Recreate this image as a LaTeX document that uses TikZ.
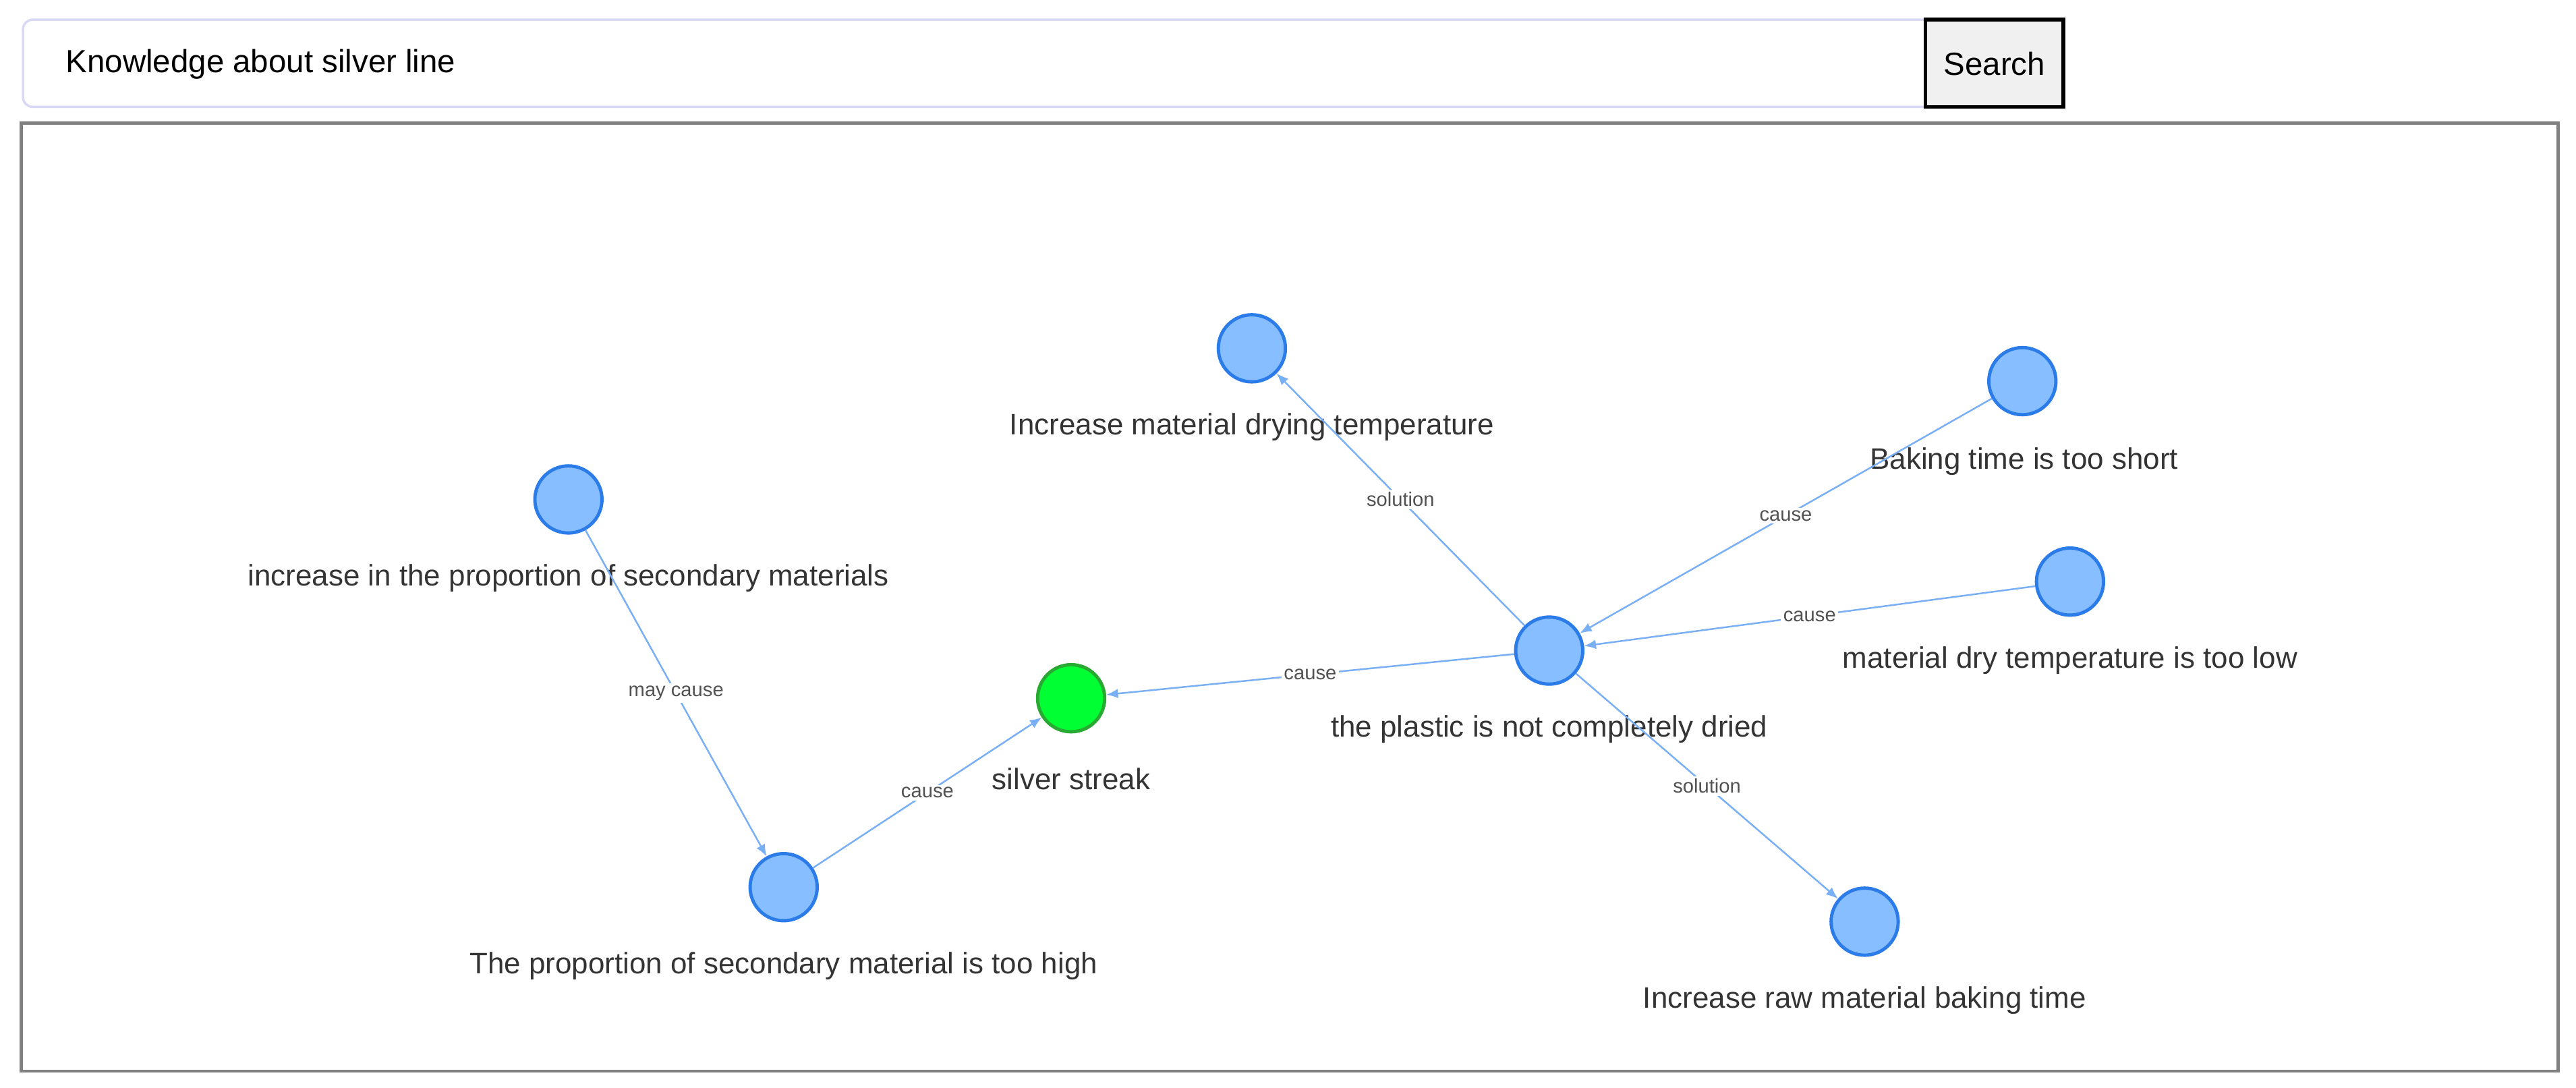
\documentclass[tikz,border=0pt]{standalone}
\usepackage{fontspec}
\setmainfont{Liberation Sans}
\usetikzlibrary{arrows.meta}
\definecolor{nfill}{RGB}{135,190,255}
\definecolor{nline}{RGB}{43,124,233}
\definecolor{gfill}{RGB}{0,255,51}
\definecolor{gline}{RGB}{40,170,50}
\definecolor{eline}{RGB}{120,175,245}
\definecolor{txt}{RGB}{52,52,52}
\begin{document}
\begin{tikzpicture}[x=0.024356cm,y=-0.024356cm,
  nd/.style={circle,draw=nline,fill=nfill,line width=1.4pt,minimum size=58\pgflinewidth*0+28.3pt,inner sep=0pt},
  gn/.style={nd,draw=gline,fill=gfill},
  lb/.style={text=txt,font=\fontsize{12.5}{14}\selectfont,anchor=center},
  ed/.style={draw=eline,line width=0.7pt,-{Latex[length=5pt,width=4pt]}},
  el/.style={text=txt!85,font=\fontsize{8.3}{9}\selectfont,fill=white,inner sep=1pt,midway}]
\useasboundingbox (0,0) rectangle (1568,662);
\fill[white] (0,0) rectangle (1568,662);
% search bar
\draw[rounded corners=4pt,draw=black!20!blue!15,line width=1pt] (14,12) rectangle (1200,65);
\node[anchor=west,font=\fontsize{13.5}{15}\selectfont,text=black] (q) at (35,39) {Knowledge about silver line};
\draw[fill=black!6,line width=1.6pt] (1172,12) rectangle (1256,65);
\node[font=\fontsize{13.5}{15}\selectfont] (s) at (1214,39) {Search};
\draw[draw=black!50,line width=1.3pt] (13,75) rectangle (1557,652);
% nodes
\node[nd] (A) at (762,212) {};
\node[nd] (B) at (1231,232) {};
\node[nd] (C) at (346,304) {};
\node[nd] (D) at (1260,354) {};
\node[nd] (E) at (943,396) {};
\node[gn] (G) at (652,425) {};
\node[nd] (F) at (477,540) {};
\node[nd] (H) at (1135,561) {};
\node[lb] (Al) at (762,260) {Increase material drying temperature};
\node[lb] (Bl) at (1232,281) {Baking time is too short};
\node[lb] (Cl) at (346,352) {increase in the proportion of secondary materials};
\node[lb] (Dl) at (1260,402) {material dry temperature is too low};
\node[lb] (El) at (943,444) {the plastic is not completely dried};
\node[lb] (Gl) at (652,474) {silver streak};
\node[lb] (Fl) at (477,588) {The proportion of secondary material is too high};
\node[lb] (Hl) at (1135,609) {Increase raw material baking time};
% edges
\draw[ed] (C) -- node[el]{may cause} (F);
\draw[ed] (F) -- node[el]{cause} (G);
\draw[ed] (E) -- node[el]{cause} (G);
\draw[ed] (E) -- node[el]{solution} (A);
\draw[ed] (B) -- node[el]{cause} (E);
\draw[ed] (D) -- node[el]{cause} (E);
\draw[ed] (E) -- node[el]{solution} (H);
\end{tikzpicture}
\end{document}
